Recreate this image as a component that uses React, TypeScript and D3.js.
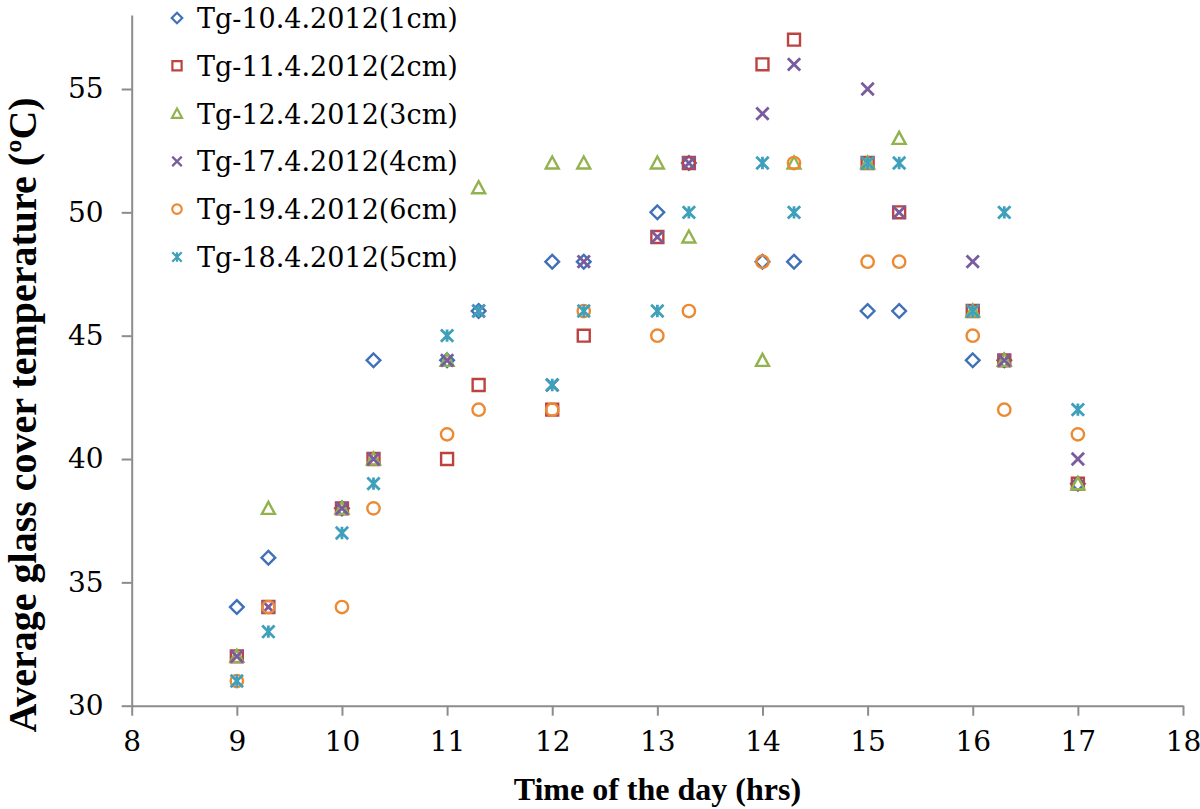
import { useRef, useEffect } from 'react';
import * as d3 from 'd3';

// time of day, decimal-ish hours as in the source sheet (9.3 = 9:30)
const TIMES = [9, 9.3, 10, 10.3, 11, 11.3, 12, 12.3, 13, 13.3, 14, 14.3, 15, 15.3, 16, 16.3, 17];

const TG_1CM = [34, 36, 38, 44, 44, 46, 48, 48, 50, 52, 48, 48, 46, 46, 44, 44, 39];
const TG_2CM = [32, 34, 38, 40, 40, 43, 42, 45, 49, 52, 56, 57, 52, 50, 46, 44, 39];
const TG_3CM = [32, 38, 38, 40, 44, 51, 52, 52, 52, 49, 44, 52, 52, 53, 46, 44, 39];
const TG_4CM = [32, 34, 38, 40, 44, 46, 43, 48, 49, 52, 54, 56, 55, 50, 48, 44, 40];
const TG_6CM = [31, 34, 34, 38, 41, 42, 42, 46, 45, 46, 48, 52, 48, 48, 45, 42, 41];
const TG_5CM = [31, 33, 37, 39, 45, 46, 43, 46, 46, 50, 52, 50, 52, 52, 46, 50, 42];

const SERIES_LABELS = [
  'Tg-10.4.2012(1cm)',
  'Tg-11.4.2012(2cm)',
  'Tg-12.4.2012(3cm)',
  'Tg-17.4.2012(4cm)',
  'Tg-19.4.2012(6cm)',
  'Tg-18.4.2012(5cm)',
];
const SERIES_VALUES = [TG_1CM, TG_2CM, TG_3CM, TG_4CM, TG_6CM, TG_5CM];

const X_TICKS = [8, 9, 10, 11, 12, 13, 14, 15, 16, 17, 18];
const Y_TICKS = [30, 35, 40, 45, 50, 55];

const W = 1200;
const H = 809;
// only the bold cut of Liberation Serif resolves here, regular text goes to DejaVu Serif
const FONT_BOLD = '"Liberation Serif", "Times New Roman", serif';
const FONT_REG = '"DejaVu Serif", serif';

// Excel-like hollow markers; size is the box edge squared
type Ctx = { moveTo(x: number, y: number): void; lineTo(x: number, y: number): void; closePath(): void; arc(x: number, y: number, r: number, a0: number, a1: number): void };
const half = (size: number) => Math.sqrt(size) / 2;

const diamond = { draw(c: Ctx, size: number) { const r = half(size) * 1.05; c.moveTo(0, -r); c.lineTo(r, 0); c.lineTo(0, r); c.lineTo(-r, 0); c.closePath(); } };
const square = { draw(c: Ctx, size: number) { const r = half(size) * 0.92; c.moveTo(-r, -r); c.lineTo(r, -r); c.lineTo(r, r); c.lineTo(-r, r); c.closePath(); } };
const triangle = { draw(c: Ctx, size: number) { const r = half(size); c.moveTo(0, -r); c.lineTo(r, r * 0.85); c.lineTo(-r, r * 0.85); c.closePath(); } };
const cross = { draw(c: Ctx, size: number) { const r = half(size) * 0.95; c.moveTo(-r, -r); c.lineTo(r, r); c.moveTo(r, -r); c.lineTo(-r, r); } };
const circle = { draw(c: Ctx, size: number) { const r = half(size) * 0.95; c.moveTo(r, 0); c.arc(0, 0, r, 0, Math.PI * 2); } };
const star = { draw(c: Ctx, size: number) { const r = half(size) * 0.95; c.moveTo(-r, -r); c.lineTo(r, r); c.moveTo(r, -r); c.lineTo(-r, r); c.moveTo(0, -r); c.lineTo(0, r); } };

const SYMBOLS = [diamond, square, triangle, cross, circle, star];
const COLORS = ['#4070B8', '#BC4340', '#92B24E', '#7A5C9E', '#EC8A33', '#3FA0BC'];

export default function App() {
  const svgRef = useRef<SVGSVGElement>(null);

  useEffect(() => {
    const svg = svgRef.current;
    if (!svg) return;
    const root = d3.select(svg);
    root.selectAll('*').remove();

    const xScale = d3.scaleLinear().domain([8, 18]).range([131.7, 1183]);
    const yScale = d3.scaleLinear().domain([30, 58]).range([705.7, 15]);
    const axisColor = '#8c8c8c';

    // X axis
    const xAxisGroup = root
      .append('g')
      .attr('transform', `translate(0,${yScale(30)})`)
      .call(d3.axisBottom(xScale).tickValues(X_TICKS).tickSize(10).tickSizeOuter(0).tickPadding(15).tickFormat(d3.format('d')));
    xAxisGroup.attr('font-family', FONT_REG);
    xAxisGroup.select('.domain').attr('stroke', axisColor).attr('stroke-width', 2);
    xAxisGroup.selectAll('line').attr('stroke', axisColor).attr('stroke-width', 2);
    xAxisGroup.selectAll('text')
      .attr('fill', '#000')
      .attr('font-family', FONT_REG)
      .attr('font-size', '28px');

    // Y axis
    const yAxisGroup = root
      .append('g')
      .attr('transform', `translate(${xScale(8)},0)`)
      .call(d3.axisLeft(yScale).tickValues(Y_TICKS).tickSize(10).tickSizeOuter(0).tickPadding(18).tickFormat(d3.format('d')));
    yAxisGroup.attr('font-family', FONT_REG);
    yAxisGroup.select('.domain').attr('stroke', axisColor).attr('stroke-width', 2);
    yAxisGroup.selectAll('line').attr('stroke', axisColor).attr('stroke-width', 2);
    yAxisGroup.selectAll('text')
      .attr('fill', '#000')
      .attr('font-family', FONT_REG)
      .attr('font-size', '28px');

    // Axis titles
    root.append('text')
      .attr('x', (xScale(8) + xScale(18)) / 2)
      .attr('y', 800)
      .attr('text-anchor', 'middle')
      .attr('font-family', FONT_BOLD)
      .attr('font-weight', 'bold')
      .attr('font-size', '32px')
      .text('Time of the day (hrs)');

    root.append('text')
      .attr('transform', 'translate(36,415) rotate(-90)')
      .attr('text-anchor', 'middle')
      .attr('font-family', FONT_BOLD)
      .attr('font-weight', 'bold')
      .attr('font-size', '40px')
      .text('Average glass cover temperature (\u00baC)');

    // Points, drawn in legend order so the last series sits on top
    SERIES_VALUES.forEach((values, si) => {
      const sym = d3.symbol().type(SYMBOLS[si] as any).size(169);
      root.append('g')
        .selectAll('path')
        .data(values)
        .join('path')
        .attr('transform', (d, i) => `translate(${xScale(TIMES[i])},${yScale(d)})`)
        .attr('d', sym())
        .attr('fill', 'none')
        .attr('stroke', COLORS[si])
        .attr('stroke-width', si >= 3 && si !== 4 ? 2.8 : 2.4);
    });

    // Legend
    const legend = root.append('g').attr('font-family', FONT_REG);
    SERIES_LABELS.forEach((label, i) => {
      const cy = 18 + i * 47.8;
      legend.append('path')
        .attr('transform', `translate(177,${cy})`)
        .attr('d', d3.symbol().type(SYMBOLS[i] as any).size(100)())
        .attr('fill', 'none')
        .attr('stroke', COLORS[i])
        .attr('stroke-width', 2.2);
      legend.append('text')
        .attr('x', 197)
        .attr('y', cy + 10)
        .attr('font-family', FONT_REG)
        .attr('font-size', '27px')
        .attr('fill', '#000')
        .text(label);
    });
  }, []);

  return (
    <svg
      ref={svgRef}
      width={W}
      height={H}
      viewBox={`0 0 ${W} ${H}`}
      style={{ position: 'absolute', left: 0, top: 0, background: '#fff', display: 'block' }}
    />
  );
}
